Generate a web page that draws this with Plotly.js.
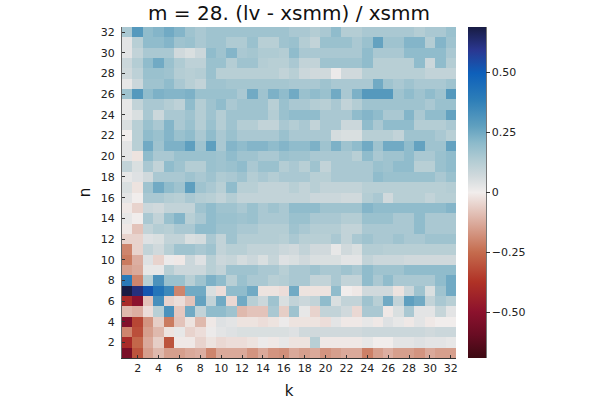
<!DOCTYPE html>
<html>
<head>
<meta charset="utf-8">
<script src="https://cdn.plot.ly/plotly-3.0.1.min.js"></script>
<style>html,body{margin:0;padding:0;background:#fff;}#chart{width:600px;height:400px;}</style>
</head>
<body>
<div id="chart"></div>
<script>
// k (columns) and n (rows) categories
const kValues = Array.from({length: 32}, (_, i) => i + 1);
const nValues = Array.from({length: 32}, (_, i) => i + 1);
const tickVals = [2,4,6,8,10,12,14,16,18,20,22,24,26,28,30,32];

// (lv - xsmm) / xsmm for each n (row), k = 1..32
const n01 = [-0.55,-0.30,-0.15,-0.10,-0.15,-0.15,-0.13,-0.12,-0.20,-0.13,-0.13,-0.13,-0.17,-0.13,-0.17,-0.18,-0.13,-0.15,-0.13,-0.17,-0.15,-0.13,-0.13,-0.21,-0.15,-0.12,-0.15,-0.15,-0.17,-0.13,-0.15,-0.15];
const n02 = [-0.40,-0.26,-0.13,-0.06,-0.30,-0.01,-0.01,-0.05,-0.02,-0.04,-0.03,-0.03,-0.02,0.01,-0.01,0.02,-0.02,-0.02,0.12,-0.01,-0.01,-0.01,-0.01,0.02,0.00,0.00,0.03,0.03,0.04,0.03,0.03,0.02];
const n03 = [-0.20,-0.31,-0.15,-0.10,-0.02,0.02,-0.05,-0.03,0.01,0.03,0.04,0.05,0.05,0.05,0.05,0.05,0.04,0.07,0.07,0.07,0.07,0.07,0.07,0.08,0.08,0.08,0.08,0.08,0.08,0.07,0.08,0.08];
const n04 = [-0.53,-0.33,-0.17,-0.06,-0.22,-0.08,-0.02,-0.10,-0.01,0.04,0.03,-0.02,-0.02,-0.03,-0.02,0.01,-0.02,-0.02,-0.02,-0.03,0.03,-0.01,-0.01,0.02,-0.01,0.04,0.02,-0.01,0.03,-0.01,0.00,0.00];
const n05 = [-0.10,-0.12,-0.03,0.12,0.32,-0.07,0.25,0.10,0.20,0.20,0.17,-0.10,-0.08,-0.08,0.15,-0.06,0.17,0.02,-0.05,0.10,0.10,0.07,-0.04,0.15,0.15,-0.01,0.05,0.15,0.03,0.03,0.09,0.03];
const n06 = [-0.40,-0.50,-0.08,0.33,-0.05,-0.03,-0.08,0.27,0.10,0.25,-0.04,0.25,0.12,0.08,0.17,0.05,0.10,0.08,0.10,0.20,0.05,0.10,0.10,0.17,0.12,0.25,0.10,0.28,0.25,0.10,0.15,0.12];
const n07 = [0.69,0.62,0.52,0.42,0.35,-0.20,0.25,0.25,0.05,-0.03,0.20,0.20,0.25,-0.02,-0.02,-0.03,0.25,-0.02,-0.02,-0.02,0.20,0.00,-0.01,0.07,0.07,0.07,-0.02,0.08,0.17,0.05,0.17,0.25];
const n08 = [0.40,-0.20,0.12,0.32,0.18,0.18,0.12,0.17,0.23,0.20,0.12,0.18,0.15,0.15,0.12,0.13,0.15,0.15,0.10,0.10,0.15,0.10,0.10,0.20,0.15,0.20,0.15,0.15,0.15,0.15,0.20,0.25];
const n09 = [-0.15,-0.13,0.02,0.02,0.12,0.08,0.08,0.08,0.12,0.10,0.17,0.17,0.17,0.15,0.15,0.12,0.15,0.15,0.17,0.15,0.15,0.17,0.15,0.20,0.17,0.17,0.17,0.20,0.20,0.20,0.20,0.20];
const n10 = [-0.22,-0.12,0.04,-0.05,0.01,-0.01,0.08,0.04,0.12,0.08,0.09,0.06,0.08,0.05,0.09,0.04,0.05,0.07,0.05,0.05,0.05,0.03,0.03,0.10,0.08,0.08,0.08,0.07,0.07,0.07,0.07,0.07];
const n11 = [-0.20,-0.05,0.10,0.07,0.12,0.17,0.17,0.15,0.17,0.10,0.12,0.12,0.10,0.10,0.10,0.08,0.07,0.10,0.07,0.07,0.02,0.07,0.05,0.13,0.13,0.12,0.12,0.12,0.12,0.12,0.12,0.12];
const n12 = [-0.05,-0.05,0.04,0.05,0.10,0.10,0.05,0.06,0.15,0.10,0.17,0.13,0.13,0.13,0.13,0.12,0.15,0.12,0.12,0.12,0.15,0.10,0.15,0.17,0.15,0.15,0.17,0.15,0.15,0.17,0.17,0.17];
const n13 = [-0.01,-0.08,0.10,0.13,0.12,0.15,0.15,0.20,0.20,0.17,0.17,0.15,0.15,0.13,0.13,0.13,0.17,0.15,0.13,0.13,0.13,0.10,0.10,0.15,0.15,0.15,0.15,0.15,0.20,0.15,0.15,0.15];
const n14 = [0.02,0.00,0.15,0.10,0.18,0.22,0.12,0.15,0.20,0.18,0.18,0.17,0.18,0.15,0.15,0.15,0.18,0.18,0.15,0.15,0.15,0.13,0.13,0.18,0.18,0.18,0.15,0.15,0.20,0.15,0.15,0.15];
const n15 = [-0.01,-0.05,0.08,0.07,0.10,0.10,0.10,0.17,0.20,0.17,0.17,0.15,0.18,0.15,0.17,0.15,0.20,0.20,0.20,0.17,0.17,0.17,0.17,0.22,0.20,0.20,0.20,0.20,0.20,0.20,0.20,0.22];
const n16 = [0.03,0.00,0.15,0.15,0.13,0.12,0.15,0.13,0.12,0.10,0.13,0.10,0.10,0.10,0.10,0.10,0.10,0.10,0.08,0.08,0.08,0.07,0.07,0.13,0.15,0.07,0.12,0.12,0.12,0.10,0.12,0.12];
const n17 = [0.05,-0.02,0.17,0.25,0.20,0.17,0.28,0.17,0.15,0.12,0.20,0.12,0.12,0.10,0.10,0.10,0.12,0.10,0.12,0.10,0.10,0.10,0.10,0.12,0.12,0.12,0.12,0.12,0.12,0.12,0.12,0.13];
const n18 = [0.02,0.04,0.07,0.15,0.15,0.15,0.17,0.15,0.17,0.14,0.15,0.17,0.13,0.15,0.13,0.15,0.15,0.15,0.12,0.12,0.15,0.15,0.15,0.15,0.20,0.18,0.18,0.18,0.18,0.18,0.15,0.18];
const n19 = [0.10,0.05,0.15,0.10,0.20,0.17,0.13,0.13,0.18,0.17,0.18,0.20,0.15,0.18,0.18,0.13,0.15,0.12,0.17,0.10,0.15,0.15,0.15,0.15,0.18,0.17,0.20,0.20,0.12,0.12,0.18,0.20];
const n20 = [0.03,-0.02,0.20,0.15,0.15,0.18,0.18,0.18,0.18,0.17,0.20,0.17,0.17,0.15,0.15,0.18,0.17,0.17,0.15,0.15,0.15,0.15,0.12,0.20,0.15,0.17,0.17,0.20,0.15,0.15,0.18,0.20];
const n21 = [0.03,0.12,0.25,0.17,0.23,0.23,0.28,0.17,0.28,0.15,0.22,0.20,0.22,0.22,0.20,0.22,0.20,0.20,0.23,0.17,0.23,0.17,0.20,0.25,0.17,0.25,0.25,0.20,0.27,0.17,0.17,0.27];
const n22 = [0.00,0.12,0.20,0.18,0.22,0.18,0.20,0.15,0.20,0.15,0.18,0.15,0.15,0.15,0.15,0.18,0.15,0.15,0.15,0.15,0.06,0.05,0.05,0.12,0.12,0.12,0.10,0.17,0.17,0.17,0.15,0.12];
const n23 = [0.05,0.12,0.18,0.15,0.22,0.15,0.18,0.13,0.18,0.13,0.17,0.13,0.13,0.10,0.10,0.15,0.13,0.15,0.10,0.15,0.15,0.08,0.08,0.20,0.15,0.20,0.20,0.20,0.13,0.13,0.13,0.15];
const n24 = [0.02,0.05,0.15,0.08,0.15,0.15,0.17,0.13,0.17,0.13,0.17,0.17,0.17,0.17,0.13,0.18,0.20,0.20,0.20,0.15,0.15,0.15,0.20,0.22,0.20,0.15,0.15,0.22,0.15,0.20,0.20,0.27];
const n25 = [0.02,0.10,0.15,0.15,0.13,0.11,0.20,0.13,0.17,0.20,0.15,0.17,0.17,0.17,0.12,0.18,0.15,0.15,0.13,0.12,0.15,0.10,0.13,0.17,0.17,0.17,0.17,0.17,0.17,0.15,0.18,0.18];
const n26 = [0.17,0.30,0.20,0.23,0.22,0.22,0.23,0.18,0.18,0.18,0.18,0.15,0.25,0.17,0.23,0.20,0.25,0.18,0.20,0.18,0.25,0.15,0.23,0.30,0.30,0.30,0.17,0.20,0.17,0.20,0.17,0.30];
const n27 = [0.02,0.08,0.17,0.17,0.20,0.15,0.12,0.10,0.17,0.17,0.16,0.16,0.16,0.16,0.16,0.16,0.15,0.15,0.15,0.17,0.15,0.15,0.15,0.15,0.25,0.17,0.15,0.17,0.15,0.15,0.15,0.17];
const n28 = [0.07,0.11,0.18,0.18,0.17,0.13,0.12,0.13,0.18,0.12,0.12,0.12,0.12,0.12,0.12,0.10,0.12,0.08,0.07,0.07,0.01,0.07,0.07,0.12,0.12,0.12,0.12,0.12,0.12,0.10,0.10,0.10];
const n29 = [0.08,0.13,0.20,0.25,0.18,0.14,0.11,0.11,0.18,0.18,0.13,0.17,0.17,0.13,0.12,0.12,0.15,0.10,0.10,0.17,0.17,0.17,0.17,0.20,0.12,0.12,0.12,0.12,0.20,0.08,0.20,0.13];
const n30 = [0.03,0.10,0.15,0.15,0.15,0.07,0.05,0.08,0.20,0.17,0.22,0.15,0.16,0.14,0.14,0.13,0.20,0.15,0.15,0.15,0.15,0.15,0.15,0.20,0.15,0.15,0.15,0.20,0.20,0.20,0.20,0.15];
const n31 = [0.03,0.12,0.20,0.20,0.22,0.17,0.18,0.15,0.17,0.17,0.14,0.14,0.18,0.12,0.12,0.17,0.18,0.13,0.10,0.18,0.18,0.18,0.15,0.18,0.27,0.17,0.17,0.22,0.22,0.13,0.22,0.17];
const n32 = [0.15,0.30,0.20,0.22,0.25,0.22,0.17,0.15,0.17,0.17,0.17,0.17,0.17,0.17,0.17,0.17,0.15,0.15,0.13,0.15,0.20,0.13,0.13,0.15,0.15,0.15,0.15,0.15,0.13,0.15,0.15,0.18];

const zRows = [n01,n02,n03,n04,n05,n06,n07,n08,n09,n10,n11,n12,n13,n14,n15,n16,
               n17,n18,n19,n20,n21,n22,n23,n24,n25,n26,n27,n28,n29,n30,n31,n32];

const cbTickVals = [-0.5, -0.25, 0, 0.25, 0.5];
const cbTickText = ['\u22120.50', '\u22120.25', '0', '0.25', '0.50'];

// cmocean "balance"-like diverging scale
const balance = [
  [0.00, 'rgb(60,9,18)'],
  [0.07, 'rgb(105,12,35)'],
  [0.14, 'rgb(140,18,45)'],
  [0.23, 'rgb(176,50,38)'],
  [0.32, 'rgb(197,108,78)'],
  [0.41, 'rgb(219,172,158)'],
  [0.50, 'rgb(241,237,236)'],
  [0.55, 'rgb(208,217,220)'],
  [0.60, 'rgb(176,203,211)'],
  [0.65, 'rgb(140,186,203)'],
  [0.70, 'rgb(96,160,191)'],
  [0.78, 'rgb(45,126,184)'],
  [0.86, 'rgb(14,96,186)'],
  [0.93, 'rgb(42,55,145)'],
  [1.00, 'rgb(24,28,67)']
];

const font = 'DejaVu Sans, sans-serif';

const trace = {
  type: 'heatmap',
  x: kValues,
  y: nValues,
  z: zRows,
  zmin: -0.69,
  zmax: 0.69,
  colorscale: balance,
  colorbar: {
    xref: 'container',
    x: 468 / 600,
    xanchor: 'left',
    y: 0.5,
    yanchor: 'middle',
    len: 1,
    lenmode: 'fraction',
    ypad: 0,
    xpad: 0,
    thickness: 18,
    outlinewidth: 0,
    ticks: 'outside',
    ticklen: 4,
    tickcolor: '#333',
    tickvals: cbTickVals,
    ticktext: cbTickText,
    tickfont: {family: font, size: 11, color: '#222'}
  }
};

const layout = {
  width: 600,
  height: 400,
  margin: {l: 122, r: 144, t: 27, b: 42},
  paper_bgcolor: '#fff',
  plot_bgcolor: '#fff',
  title: {
    text: 'm = 28. (lv - xsmm) / xsmm',
    font: {family: font, size: 20, color: '#111'},
    x: 289 / 600,
    xanchor: 'center',
    y: 1 - 13 / 400,
    yanchor: 'middle'
  },
  shapes: [{
    type: 'line', xref: 'paper', yref: 'paper',
    x0: (486.5 - 122) / 334, x1: (486.5 - 122) / 334, y0: 0, y1: 1,
    line: {color: '#777', width: 1}
  }],
  xaxis: {
    range: [0.5, 32.5],
    tickvals: tickVals,
    ticks: 'inside',
    ticklen: 3,
    tickcolor: '#333',
    showline: true,
    linecolor: '#333',
    linewidth: 1,
    showgrid: false,
    zeroline: false,
    tickfont: {family: font, size: 11, color: '#222'},
    title: {text: 'k', font: {family: font, size: 15, color: '#111'}, standoff: 11}
  },
  yaxis: {
    range: [0.5, 32.5],
    tickvals: tickVals,
    ticks: 'inside',
    ticklen: 3,
    tickcolor: '#333',
    showline: true,
    linecolor: '#666',
    linewidth: 1,
    showgrid: false,
    zeroline: false,
    ticklabelstandoff: 4,
    tickfont: {family: font, size: 11, color: '#222'},
    title: {text: 'n', font: {family: font, size: 15, color: '#111'}, standoff: 6}
  }
};

Plotly.newPlot('chart', [trace], layout, {displayModeBar: false, staticPlot: true});
</script>
</body>
</html>
